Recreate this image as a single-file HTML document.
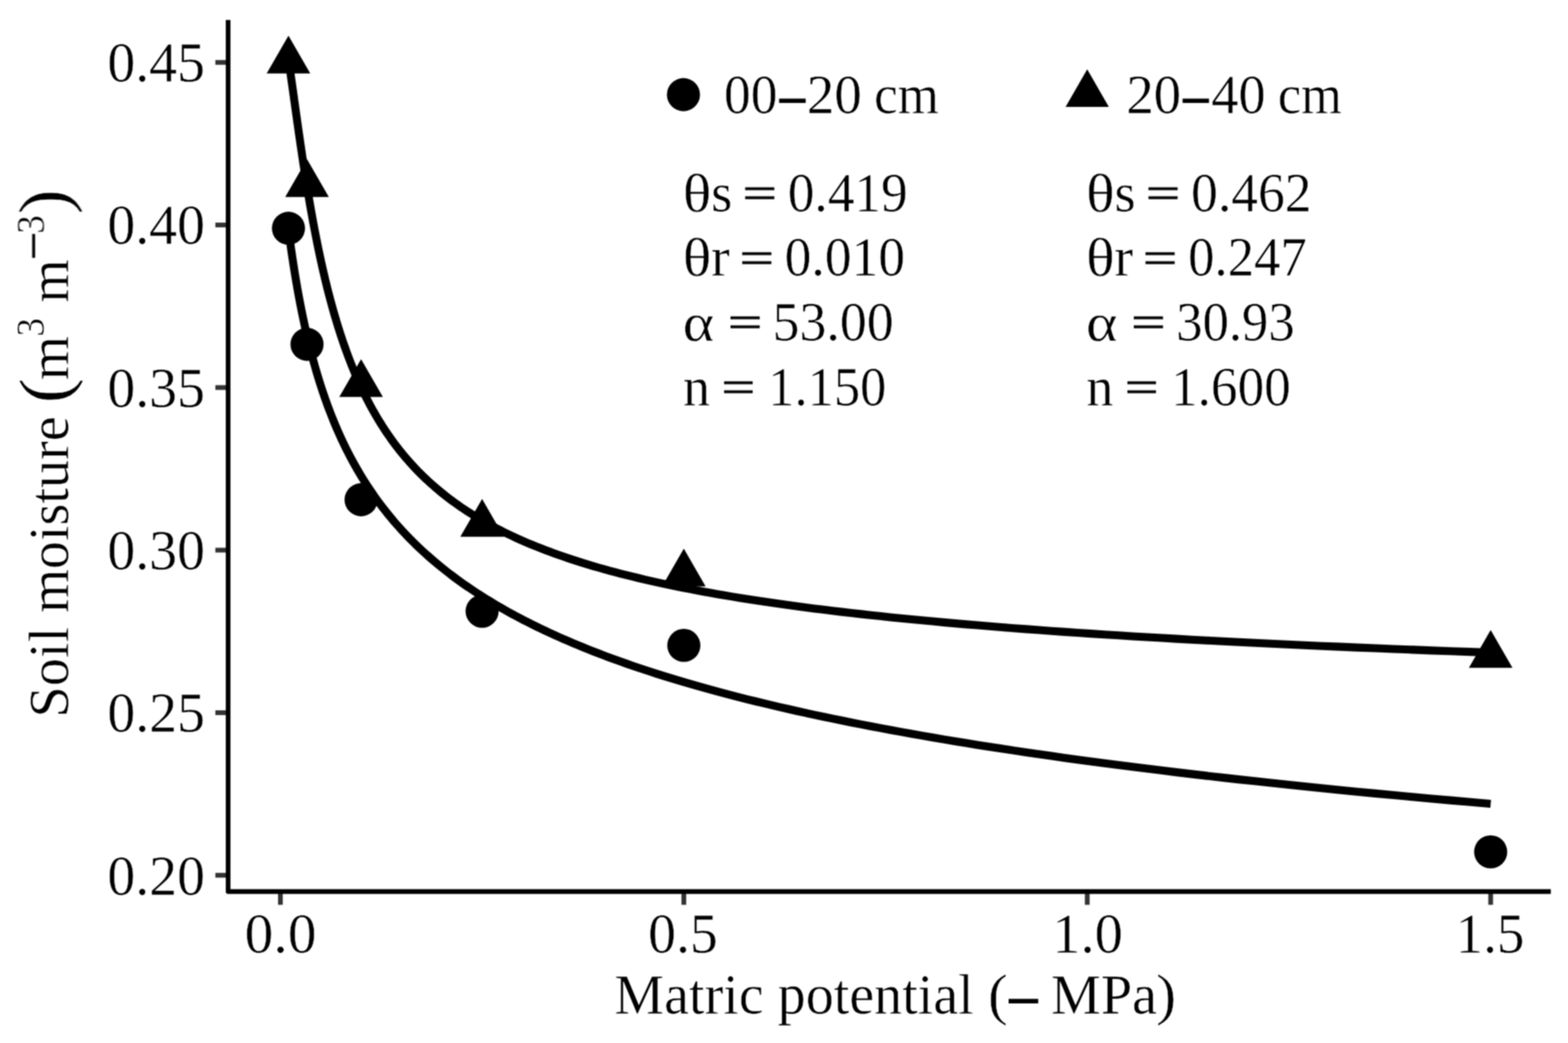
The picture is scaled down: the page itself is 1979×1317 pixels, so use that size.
<!DOCTYPE html>
<html lang="en">
<head>
<meta charset="utf-8">
<title>Soil water retention curves</title>
<style>
html,body{margin:0;padding:0;background:#fff;}
body{width:1979px;height:1317px;overflow:hidden;}
svg{display:block;}
text{font-family:"Liberation Serif","Times New Roman",Times,serif;fill:#000;white-space:pre;}
text.t{stroke:#fff;stroke-width:0.50px;vector-effect:non-scaling-stroke;}
text.k{stroke:#000;vector-effect:non-scaling-stroke;}
</style>
</head>
<body>
<svg width="1979" height="1317" viewBox="0 0 1979 1317" role="img" aria-label="Soil water retention curves: soil moisture versus matric potential for 00-20 cm and 20-40 cm">
<defs><filter id="soft" x="0" y="0" width="1979" height="1317" filterUnits="userSpaceOnUse" color-interpolation-filters="sRGB"><feConvolveMatrix order="3" kernelMatrix="1 2 1 2 4 2 1 2 1" divisor="16" edgeMode="duplicate" preserveAlpha="false"/></filter></defs>
<g filter="url(#soft)">
<rect x="0" y="0" width="1979" height="1317" fill="#ffffff"/>
<g fill="none" stroke="#000" stroke-width="10.10" stroke-linejoin="round" stroke-linecap="butt">
<path d="M364.08,290.04 L364.25,291.35 L364.43,292.67 L364.61,294.01 L364.79,295.37 L364.97,296.74 L365.16,298.13 L365.35,299.53 L365.54,300.95 L365.74,302.39 L365.93,303.84 L366.14,305.31 L366.34,306.79 L366.55,308.29 L366.77,309.81 L366.98,311.35 L367.20,312.90 L367.43,314.47 L367.65,316.05 L367.89,317.65 L368.12,319.27 L368.36,320.90 L368.61,322.55 L368.85,324.22 L369.10,325.90 L369.36,327.60 L369.62,329.32 L369.89,331.05 L370.16,332.80 L370.43,334.57 L370.71,336.35 L370.99,338.15 L371.28,339.97 L371.57,341.80 L371.87,343.65 L372.17,345.51 L372.48,347.40 L372.79,349.29 L373.11,351.21 L373.43,353.14 L373.76,355.08 L374.10,357.04 L374.44,359.02 L374.78,361.01 L375.13,363.02 L375.49,365.05 L375.86,367.09 L376.23,369.14 L376.60,371.21 L376.98,373.30 L377.37,375.40 L377.77,377.51 L378.17,379.64 L378.58,381.79 L378.99,383.95 L379.42,386.12 L379.85,388.31 L380.28,390.51 L380.73,392.73 L381.18,394.96 L381.64,397.21 L382.11,399.47 L382.58,401.74 L383.07,404.02 L383.56,406.32 L384.06,408.64 L384.56,410.96 L385.08,413.30 L385.61,415.65 L386.14,418.01 L386.68,420.39 L387.23,422.78 L387.80,425.18 L388.37,427.59 L388.95,430.01 L389.54,432.45 L390.14,434.89 L390.75,437.35 L391.37,439.82 L392.00,442.30 L392.64,444.79 L393.29,447.29 L393.96,449.80 L394.63,452.32 L395.32,454.85 L396.02,457.39 L396.73,459.94 L397.45,462.50 L398.18,465.07 L398.93,467.64 L399.68,470.23 L400.46,472.82 L401.24,475.43 L402.04,478.04 L402.85,480.66 L403.67,483.29 L404.51,485.92 L405.36,488.57 L406.23,491.22 L407.11,493.87 L408.01,496.54 L408.92,499.21 L409.84,501.89 L410.79,504.57 L411.75,507.26 L412.72,509.96 L413.71,512.66 L414.72,515.37 L415.74,518.09 L416.78,520.80 L417.84,523.53 L418.92,526.26 L420.01,528.99 L421.13,531.73 L422.26,534.48 L423.41,537.23 L424.58,539.98 L425.77,542.73 L426.98,545.49 L428.21,548.26 L429.47,551.03 L430.74,553.80 L432.03,556.57 L433.35,559.35 L434.69,562.13 L436.05,564.91 L437.43,567.70 L438.84,570.49 L440.27,573.28 L441.72,576.07 L443.20,578.86 L444.71,581.66 L446.24,584.46 L447.79,587.26 L449.37,590.06 L450.98,592.86 L452.62,595.66 L454.28,598.47 L455.97,601.27 L457.69,604.08 L459.44,606.88 L461.21,609.69 L463.02,612.50 L464.86,615.31 L466.73,618.12 L468.63,620.92 L470.56,623.73 L472.52,626.54 L474.52,629.35 L476.55,632.15 L478.62,634.96 L480.72,637.76 L482.86,640.57 L485.03,643.37 L487.24,646.18 L489.48,648.98 L491.77,651.78 L494.09,654.58 L496.45,657.38 L498.85,660.17 L501.29,662.97 L503.77,665.76 L506.30,668.55 L508.86,671.34 L511.47,674.13 L514.13,676.91 L516.83,679.70 L519.57,682.48 L522.36,685.26 L525.20,688.03 L528.08,690.81 L531.02,693.58 L534.00,696.35 L537.03,699.11 L540.12,701.88 L543.25,704.64 L546.44,707.40 L549.69,710.15 L552.98,712.90 L556.34,715.65 L559.75,718.40 L563.21,721.14 L566.74,723.88 L570.32,726.61 L573.97,729.35 L577.68,732.07 L581.44,734.80 L585.28,737.52 L589.17,740.24 L593.14,742.95 L597.17,745.66 L601.26,748.37 L605.43,751.07 L609.67,753.77 L613.97,756.47 L618.35,759.16 L622.81,761.85 L627.34,764.53 L631.94,767.21 L636.62,769.89 L641.39,772.56 L646.23,775.22 L651.15,777.89 L656.16,780.54 L661.25,783.20 L666.43,785.85 L671.69,788.49 L677.04,791.13 L682.48,793.77 L688.02,796.40 L693.65,799.03 L699.37,801.65 L705.19,804.27 L711.10,806.88 L717.12,809.49 L723.24,812.09 L729.46,814.69 L735.78,817.29 L742.21,819.88 L748.75,822.46 L755.40,825.04 L762.17,827.62 L769.04,830.19 L776.03,832.76 L783.14,835.32 L790.37,837.87 L797.73,840.43 L805.20,842.97 L812.80,845.51 L820.53,848.05 L828.39,850.58 L836.38,853.11 L844.51,855.63 L852.77,858.14 L861.17,860.66 L869.72,863.16 L878.40,865.66 L887.24,868.16 L896.22,870.65 L905.35,873.14 L914.64,875.62 L924.09,878.09 L933.69,880.56 L943.45,883.03 L953.38,885.49 L963.48,887.94 L973.75,890.39 L984.19,892.84 L994.80,895.28 L1005.60,897.71 L1016.57,900.14 L1027.73,902.57 L1039.08,904.99 L1050.62,907.40 L1062.36,909.81 L1074.29,912.21 L1086.42,914.61 L1098.76,917.00 L1111.31,919.39 L1124.06,921.77 L1137.03,924.15 L1150.22,926.52 L1163.64,928.89 L1177.27,931.25 L1191.14,933.61 L1205.24,935.96 L1219.58,938.30 L1234.16,940.64 L1248.99,942.98 L1264.06,945.31 L1279.39,947.63 L1294.98,949.95 L1310.83,952.27 L1326.95,954.57 L1343.33,956.88 L1360.00,959.18 L1376.94,961.47 L1394.17,963.76 L1411.69,966.04 L1429.51,968.32 L1447.63,970.59 L1466.05,972.86 L1484.78,975.12 L1503.82,977.38 L1523.19,979.63 L1542.89,981.88 L1562.91,984.12 L1583.27,986.35 L1603.98,988.58 L1625.03,990.81 L1646.44,993.03 L1668.21,995.24 L1690.35,997.45 L1712.86,999.66 L1735.75,1001.86 L1759.02,1004.05 L1782.68,1006.24 L1806.75,1008.43 L1831.22,1010.61 L1856.10,1012.78 L1881.40,1014.95"/>
<path d="M364.08,75.41 L364.25,76.54 L364.43,77.69 L364.61,78.86 L364.79,80.06 L364.97,81.29 L365.16,82.54 L365.35,83.82 L365.54,85.13 L365.74,86.46 L365.93,87.82 L366.14,89.21 L366.34,90.63 L366.55,92.08 L366.77,93.56 L366.98,95.07 L367.20,96.60 L367.43,98.17 L367.65,99.77 L367.89,101.40 L368.12,103.07 L368.36,104.76 L368.61,106.49 L368.85,108.25 L369.10,110.04 L369.36,111.87 L369.62,113.73 L369.89,115.62 L370.16,117.55 L370.43,119.51 L370.71,121.51 L370.99,123.54 L371.28,125.61 L371.57,127.71 L371.87,129.85 L372.17,132.03 L372.48,134.24 L372.79,136.49 L373.11,138.77 L373.43,141.09 L373.76,143.44 L374.10,145.84 L374.44,148.27 L374.78,150.73 L375.13,153.23 L375.49,155.77 L375.86,158.35 L376.23,160.96 L376.60,163.61 L376.98,166.30 L377.37,169.02 L377.77,171.78 L378.17,174.57 L378.58,177.40 L378.99,180.27 L379.42,183.17 L379.85,186.10 L380.28,189.07 L380.73,192.08 L381.18,195.12 L381.64,198.19 L382.11,201.30 L382.58,204.44 L383.07,207.61 L383.56,210.82 L384.06,214.06 L384.56,217.33 L385.08,220.62 L385.61,223.95 L386.14,227.31 L386.68,230.70 L387.23,234.12 L387.80,237.57 L388.37,241.04 L388.95,244.54 L389.54,248.06 L390.14,251.61 L390.75,255.19 L391.37,258.79 L392.00,262.41 L392.64,266.06 L393.29,269.73 L393.96,273.42 L394.63,277.13 L395.32,280.85 L396.02,284.60 L396.73,288.37 L397.45,292.15 L398.18,295.95 L398.93,299.76 L399.68,303.59 L400.46,307.43 L401.24,311.29 L402.04,315.16 L402.85,319.04 L403.67,322.93 L404.51,326.83 L405.36,330.74 L406.23,334.65 L407.11,338.58 L408.01,342.51 L408.92,346.44 L409.84,350.38 L410.79,354.33 L411.75,358.27 L412.72,362.22 L413.71,366.17 L414.72,370.13 L415.74,374.08 L416.78,378.03 L417.84,381.98 L418.92,385.93 L420.01,389.87 L421.13,393.81 L422.26,397.75 L423.41,401.68 L424.58,405.60 L425.77,409.52 L426.98,413.43 L428.21,417.34 L429.47,421.23 L430.74,425.12 L432.03,429.00 L433.35,432.86 L434.69,436.72 L436.05,440.56 L437.43,444.39 L438.84,448.21 L440.27,452.02 L441.72,455.81 L443.20,459.59 L444.71,463.36 L446.24,467.11 L447.79,470.84 L449.37,474.56 L450.98,478.26 L452.62,481.95 L454.28,485.62 L455.97,489.27 L457.69,492.90 L459.44,496.52 L461.21,500.11 L463.02,503.69 L464.86,507.25 L466.73,510.79 L468.63,514.31 L470.56,517.82 L472.52,521.30 L474.52,524.76 L476.55,528.20 L478.62,531.62 L480.72,535.02 L482.86,538.40 L485.03,541.75 L487.24,545.09 L489.48,548.40 L491.77,551.69 L494.09,554.96 L496.45,558.21 L498.85,561.44 L501.29,564.64 L503.77,567.83 L506.30,570.98 L508.86,574.12 L511.47,577.24 L514.13,580.33 L516.83,583.40 L519.57,586.45 L522.36,589.47 L525.20,592.47 L528.08,595.45 L531.02,598.41 L534.00,601.34 L537.03,604.26 L540.12,607.14 L543.25,610.01 L546.44,612.85 L549.69,615.68 L552.98,618.47 L556.34,621.25 L559.75,624.00 L563.21,626.73 L566.74,629.44 L570.32,632.13 L573.97,634.79 L577.68,637.44 L581.44,640.06 L585.28,642.66 L589.17,645.23 L593.14,647.79 L597.17,650.32 L601.26,652.83 L605.43,655.32 L609.67,657.79 L613.97,660.23 L618.35,662.66 L622.81,665.06 L627.34,667.45 L631.94,669.81 L636.62,672.15 L641.39,674.47 L646.23,676.77 L651.15,679.05 L656.16,681.31 L661.25,683.55 L666.43,685.77 L671.69,687.97 L677.04,690.15 L682.48,692.31 L688.02,694.45 L693.65,696.57 L699.37,698.67 L705.19,700.75 L711.10,702.82 L717.12,704.86 L723.24,706.88 L729.46,708.89 L735.78,710.88 L742.21,712.85 L748.75,714.80 L755.40,716.73 L762.17,718.65 L769.04,720.54 L776.03,722.42 L783.14,724.29 L790.37,726.13 L797.73,727.96 L805.20,729.77 L812.80,731.56 L820.53,733.34 L828.39,735.09 L836.38,736.84 L844.51,738.56 L852.77,740.27 L861.17,741.97 L869.72,743.64 L878.40,745.30 L887.24,746.95 L896.22,748.58 L905.35,750.19 L914.64,751.79 L924.09,753.37 L933.69,754.94 L943.45,756.50 L953.38,758.03 L963.48,759.56 L973.75,761.07 L984.19,762.56 L994.80,764.04 L1005.60,765.50 L1016.57,766.96 L1027.73,768.39 L1039.08,769.82 L1050.62,771.22 L1062.36,772.62 L1074.29,774.00 L1086.42,775.37 L1098.76,776.73 L1111.31,778.07 L1124.06,779.40 L1137.03,780.71 L1150.22,782.02 L1163.64,783.31 L1177.27,784.59 L1191.14,785.85 L1205.24,787.11 L1219.58,788.35 L1234.16,789.58 L1248.99,790.79 L1264.06,792.00 L1279.39,793.19 L1294.98,794.37 L1310.83,795.54 L1326.95,796.70 L1343.33,797.85 L1360.00,798.98 L1376.94,800.11 L1394.17,801.22 L1411.69,802.32 L1429.51,803.42 L1447.63,804.50 L1466.05,805.57 L1484.78,806.63 L1503.82,807.68 L1523.19,808.72 L1542.89,809.74 L1562.91,810.76 L1583.27,811.77 L1603.98,812.77 L1625.03,813.76 L1646.44,814.74 L1668.21,815.71 L1690.35,816.67 L1712.86,817.62 L1735.75,818.56 L1759.02,819.49 L1782.68,820.41 L1806.75,821.33 L1831.22,822.23 L1856.10,823.13 L1881.40,824.01"/>
</g>
<g fill="#000">
<circle cx="364.08" cy="288.19" r="20.90"/>
<circle cx="387.50" cy="434.76" r="20.90"/>
<circle cx="455.73" cy="631.00" r="20.90"/>
<circle cx="608.48" cy="771.83" r="20.90"/>
<circle cx="863.07" cy="814.93" r="20.90"/>
<circle cx="1881.40" cy="1075.64" r="20.90"/>
<polygon points="364.08,44.88 336.58,92.68 391.58,92.68"/>
<polygon points="387.50,200.89 360.00,248.69 415.00,248.69"/>
<polygon points="455.73,453.39 428.23,501.19 483.23,501.19"/>
<polygon points="608.48,629.93 580.98,677.73 635.98,677.73"/>
<polygon points="863.07,692.74 835.57,740.54 890.57,740.54"/>
<polygon points="1881.40,795.38 1853.90,843.18 1908.90,843.18"/>
</g>
<g stroke="#333333" stroke-width="6.00" fill="none">
<line x1="271.80" y1="1105.20" x2="285.80" y2="1105.20"/>
<line x1="271.80" y1="899.92" x2="285.80" y2="899.92"/>
<line x1="271.80" y1="694.64" x2="285.80" y2="694.64"/>
<line x1="271.80" y1="489.36" x2="285.80" y2="489.36"/>
<line x1="271.80" y1="284.08" x2="285.80" y2="284.08"/>
<line x1="271.80" y1="78.80" x2="285.80" y2="78.80"/>
<line x1="353.90" y1="1127.50" x2="353.90" y2="1142.50"/>
<line x1="863.07" y1="1127.50" x2="863.07" y2="1142.50"/>
<line x1="1372.23" y1="1127.50" x2="1372.23" y2="1142.50"/>
<line x1="1881.40" y1="1127.50" x2="1881.40" y2="1142.50"/>
</g>
<path d="M287.90,25.30 L287.90,1125.70 L1957.30,1125.70" fill="none" stroke="#000" stroke-width="5.90" stroke-linejoin="round"/>
<text xml:space="preserve" transform="translate(135.51,103.10) scale(0.9780,1.0000)" font-size="72.00" class="t">0.45</text>
<text xml:space="preserve" transform="translate(135.51,308.38) scale(0.9780,1.0000)" font-size="72.00" class="t">0.40</text>
<text xml:space="preserve" transform="translate(135.51,513.66) scale(0.9780,1.0000)" font-size="72.00" class="t">0.35</text>
<text xml:space="preserve" transform="translate(135.51,718.94) scale(0.9780,1.0000)" font-size="72.00" class="t">0.30</text>
<text xml:space="preserve" transform="translate(135.51,924.22) scale(0.9780,1.0000)" font-size="72.00" class="t">0.25</text>
<text xml:space="preserve" transform="translate(135.51,1129.50) scale(0.9780,1.0000)" font-size="72.00" class="t">0.20</text>
<text xml:space="preserve" transform="translate(308.83,1203.00) scale(1.0059,1.0000)" font-size="72.00" class="t">0.0</text>
<text xml:space="preserve" transform="translate(818.02,1203.00) scale(0.9763,1.0000)" font-size="72.00" class="t">0.5</text>
<text xml:space="preserve" transform="translate(1328.00,1203.00) scale(0.9926,1.0000)" font-size="72.00" class="t">1.0</text>
<text xml:space="preserve" transform="translate(1837.17,1203.00) scale(0.9642,1.0000)" font-size="72.00" class="t">1.5</text>
<g><text xml:space="preserve" transform="translate(775.35,1280.30) scale(0.9757,1.0000)" font-size="72.50" class="t">Matric potential</text><text xml:space="preserve" transform="translate(1228.34,1280.30) scale(1.0240,1.0000)" font-size="72.50" class="t"> (</text><text xml:space="preserve" transform="translate(1273.40,1290.90) scale(1.0040,1.5733)" font-size="72.50">– </text><text xml:space="preserve" transform="translate(1326.34,1280.30) scale(0.9784,1.0000)" font-size="72.50" class="t">MPa</text><text xml:space="preserve" transform="translate(1459.25,1280.30) scale(1.0453,1.0000)" font-size="72.50" class="t">)</text></g>
<g transform="translate(86.30,0) rotate(-90)"><text xml:space="preserve" transform="translate(-905.95,0.00) scale(0.9788,1.0000)" font-size="72.50" class="t">Soil moisture</text><text xml:space="preserve" transform="translate(-533.20,-0.57) scale(1.1091,1.0341)" font-size="86.00" class="t"> (</text><text xml:space="preserve" transform="translate(-480.19,0.00) scale(0.9953,1.0000)" font-size="72.50" class="t">m</text><text xml:space="preserve" transform="translate(-424.94,-31.20) scale(0.9349,1.0059)" font-size="50.50" class="t">3</text><text xml:space="preserve" transform="translate(-399.88,0.00) scale(0.9712,1.0000)" font-size="72.50" class="t"> m</text><text xml:space="preserve" transform="translate(-329.01,-18.76) scale(1.2851,1.4800)" font-size="50.50">−</text><text xml:space="preserve" transform="translate(-295.34,-31.20) scale(0.9349,1.0059)" font-size="50.50" class="t">3</text><text xml:space="preserve" transform="translate(-270.62,-0.57) scale(1.1000,1.0341)" font-size="86.00" class="t">)</text></g>
<circle cx="862.6" cy="119.5" r="20.90" fill="#000"/>
<g><text xml:space="preserve" transform="translate(913.65,142.80) scale(0.9643,1.0000)" font-size="70.00" class="t">00</text><text xml:space="preserve" transform="translate(983.77,152.67) scale(0.9333,1.5429)" font-size="70.00">–</text><text xml:space="preserve" transform="translate(1018.32,142.80) scale(0.9930,1.0000)" font-size="70.00" class="t">20</text><text xml:space="preserve" transform="translate(1086.43,142.80) scale(0.9566,1.0000)" font-size="70.00" class="t"> cm</text></g>
<polygon fill="#000" points="1372.2,87.4 1344.9,135.1 1399.5,135.1"/>
<g><text xml:space="preserve" transform="translate(1421.43,142.80) scale(0.9914,1.0000)" font-size="70.00" class="t">20</text><text xml:space="preserve" transform="translate(1492.96,152.67) scale(0.9278,1.5429)" font-size="70.00">–</text><text xml:space="preserve" transform="translate(1528.77,142.80) scale(0.9803,1.0000)" font-size="70.00" class="t">40</text><text xml:space="preserve" transform="translate(1596.28,142.80) scale(0.9443,1.0000)" font-size="70.00" class="t"> cm</text></g>
<g><text xml:space="preserve" transform="translate(861.71,266.67) scale(1.0752,0.9668)" font-size="70.00" class="t">θ</text><text xml:space="preserve" transform="translate(897.45,266.50) scale(0.9839,1.0000)" font-size="70.00" class="t">s</text><text xml:space="preserve" transform="translate(918.10,262.73) scale(1.0954,0.8229)" font-size="70.00" class="k" stroke-width="1.00"> = </text><text xml:space="preserve" transform="translate(994.16,266.50) scale(0.9614,1.0000)" font-size="70.00" class="t">0.419</text></g>
<g><text xml:space="preserve" transform="translate(861.71,348.47) scale(1.0752,0.9668)" font-size="70.00" class="t">θ</text><text xml:space="preserve" transform="translate(897.39,348.30) scale(1.0071,1.0000)" font-size="70.00" class="t">r</text><text xml:space="preserve" transform="translate(914.30,344.53) scale(1.0954,0.8229)" font-size="70.00" class="k" stroke-width="1.00"> = </text><text xml:space="preserve" transform="translate(990.35,348.30) scale(0.9651,1.0000)" font-size="70.00" class="t">0.010</text></g>
<g><text xml:space="preserve" transform="translate(861.73,430.27) scale(1.0791,0.9719)" font-size="70.00" class="t">α</text><text xml:space="preserve" transform="translate(899.50,426.23) scale(1.0954,0.8229)" font-size="70.00" class="k" stroke-width="1.00"> = </text><text xml:space="preserve" transform="translate(975.12,430.00) scale(0.9698,1.0000)" font-size="70.00" class="t">53.00</text></g>
<g><text xml:space="preserve" transform="translate(862.25,511.80) scale(0.9692,1.0000)" font-size="70.00" class="t">n</text><text xml:space="preserve" transform="translate(892.11,508.03) scale(1.0708,0.8229)" font-size="70.00" class="k" stroke-width="1.00"> = </text><text xml:space="preserve" transform="translate(969.58,511.80) scale(0.9468,1.0000)" font-size="70.00" class="t">1.150</text></g>
<g><text xml:space="preserve" transform="translate(1370.71,266.67) scale(1.0752,0.9668)" font-size="70.00" class="t">θ</text><text xml:space="preserve" transform="translate(1406.45,266.50) scale(0.9839,1.0000)" font-size="70.00" class="t">s</text><text xml:space="preserve" transform="translate(1427.10,262.73) scale(1.0954,0.8229)" font-size="70.00" class="k" stroke-width="1.00"> = </text><text xml:space="preserve" transform="translate(1503.34,266.50) scale(0.9656,1.0000)" font-size="70.00" class="t">0.462</text></g>
<g><text xml:space="preserve" transform="translate(1370.71,348.47) scale(1.0752,0.9668)" font-size="70.00" class="t">θ</text><text xml:space="preserve" transform="translate(1406.39,348.30) scale(1.0071,1.0000)" font-size="70.00" class="t">r</text><text xml:space="preserve" transform="translate(1423.30,344.53) scale(1.0954,0.8229)" font-size="70.00" class="k" stroke-width="1.00"> = </text><text xml:space="preserve" transform="translate(1499.59,348.30) scale(0.9506,1.0000)" font-size="70.00" class="t">0.247</text></g>
<g><text xml:space="preserve" transform="translate(1370.73,430.27) scale(1.0791,0.9719)" font-size="70.00" class="t">α</text><text xml:space="preserve" transform="translate(1408.50,426.23) scale(1.0954,0.8229)" font-size="70.00" class="k" stroke-width="1.00"> = </text><text xml:space="preserve" transform="translate(1484.41,430.00) scale(0.9505,1.0000)" font-size="70.00" class="t">30.93</text></g>
<g><text xml:space="preserve" transform="translate(1371.25,511.80) scale(0.9692,1.0000)" font-size="70.00" class="t">n</text><text xml:space="preserve" transform="translate(1401.11,508.03) scale(1.0708,0.8229)" font-size="70.00" class="k" stroke-width="1.00"> = </text><text xml:space="preserve" transform="translate(1478.00,511.80) scale(0.9596,1.0000)" font-size="70.00" class="t">1.600</text></g>
</g>
</svg>
</body>
</html>
